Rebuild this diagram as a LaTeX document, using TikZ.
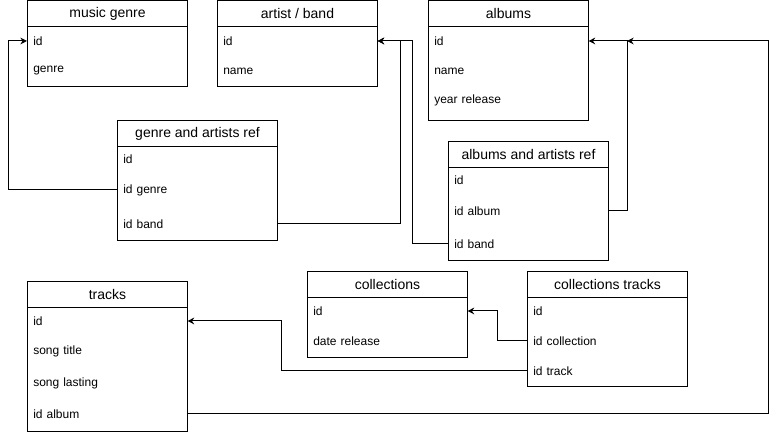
\documentclass[tikz,border=0pt]{standalone}
\usepackage{fontspec}
\setmainfont{Liberation Sans}
\usetikzlibrary{arrows.meta}
\begin{document}
\begin{tikzpicture}[x=0.75pt,y=-0.75pt,
  tbl/.style={draw, line width=0.75pt, anchor=north west, minimum width=120pt, inner sep=0pt},
  head/.style={draw, line width=0.75pt, anchor=north west, minimum width=120pt, minimum height=19.5pt, inner sep=0pt, font=\fontsize{10.5pt}{12pt}\selectfont},
  field/.style={anchor=west, text width=111pt, inner xsep=4.5pt, inner ysep=0pt, align=left, font=\fontsize{9pt}{11pt}\selectfont},
  conn/.style={line width=0.75pt, -{Stealth[length=5pt,width=5pt]}}
]
\useasboundingbox (0,0) rectangle (776,434);

% music genre
\node[tbl, minimum height=85.5*0.75pt] (mg) at (27,0.5) {};
\node[head] (mgh) at (27,0.5) {music genre};
\node[field] (mg-id) at (27,41) {id};
\node[field] (mg-genre) at (27,71) {genre};

% artist / band
\node[tbl, minimum height=85.5*0.75pt] (ab) at (217,0.5) {};
\node[head] (abh) at (217,0.5) {artist / band};
\node[field] (ab-id) at (217,41) {id};
\node[field] (ab-name) at (217,71) {name};

% albums
\node[tbl, minimum height=119.5*0.75pt] (al) at (428,0.5) {};
\node[head] (alh) at (428,0.5) {albums};
\node[field] (al-id) at (428,41) {id};
\node[field] (al-name) at (428,71) {name};
\node[field] (al-year) at (428,100) {year release};

% genre and artists ref
\node[tbl, minimum height=120*0.75pt] (gar) at (117,120) {};
\node[head] (garh) at (117,120) {genre and artists ref};
\node[field] (gar-id) at (117,159) {id};
\node[field] (gar-genre) at (117,190) {id genre};
\node[field] (gar-band) at (117,224) {id band};

% albums and artists ref
\node[tbl, minimum height=119*0.75pt] (aar) at (448,141) {};
\node[head] (aarh) at (448,141) {albums and artists ref};
\node[field] (aar-id) at (448,180) {id};
\node[field] (aar-album) at (448,211) {id album};
\node[field] (aar-band) at (448,244) {id band};

% tracks
\node[tbl, minimum height=150*0.75pt] (tr) at (27,281) {};
\node[head] (trh) at (27,281) {tracks};
\node[field] (tr-id) at (27,321) {id};
\node[field] (tr-title) at (27,351) {song title};
\node[field] (tr-last) at (27,383) {song lasting};
\node[field] (tr-album) at (27,414) {id album};

% collections
\node[tbl, minimum height=86*0.75pt] (co) at (307,271) {};
\node[head] (coh) at (307,271) {collections};
\node[field] (co-id) at (307,311) {id};
\node[field] (co-date) at (307,341) {date release};

% collections tracks
\node[tbl, minimum height=115*0.75pt] (ct) at (527,271) {};
\node[head] (cth) at (527,271) {collections tracks};
\node[field] (ct-id) at (527,311) {id};
\node[field] (ct-coll) at (527,341) {id collection};
\node[field] (ct-track) at (527,371) {id track};

\coordinate (alj) at (627,41);

% connectors
\draw[conn] (gar-genre.west) -- ++(-109,0) |- (mg-id.west);
\draw[conn] (gar-band.east) -- ++(123,0) |- (ab-id.east);
\draw[conn] (aar-band.west) -- ++(-36,0) |- (ab-id.east);
\draw[conn] (aar-album.east) -- ++(19,0) |- (al-id.east);
\draw[conn] (tr-album.east) -- ++(581,0) |- (alj);
\draw[conn] (ct-coll.west) -- ++(-30,0) |- (co-id.east);
\draw[conn] (ct-track.west) -- ++(-246,0) |- (tr-id.east);
\end{tikzpicture}
\end{document}
